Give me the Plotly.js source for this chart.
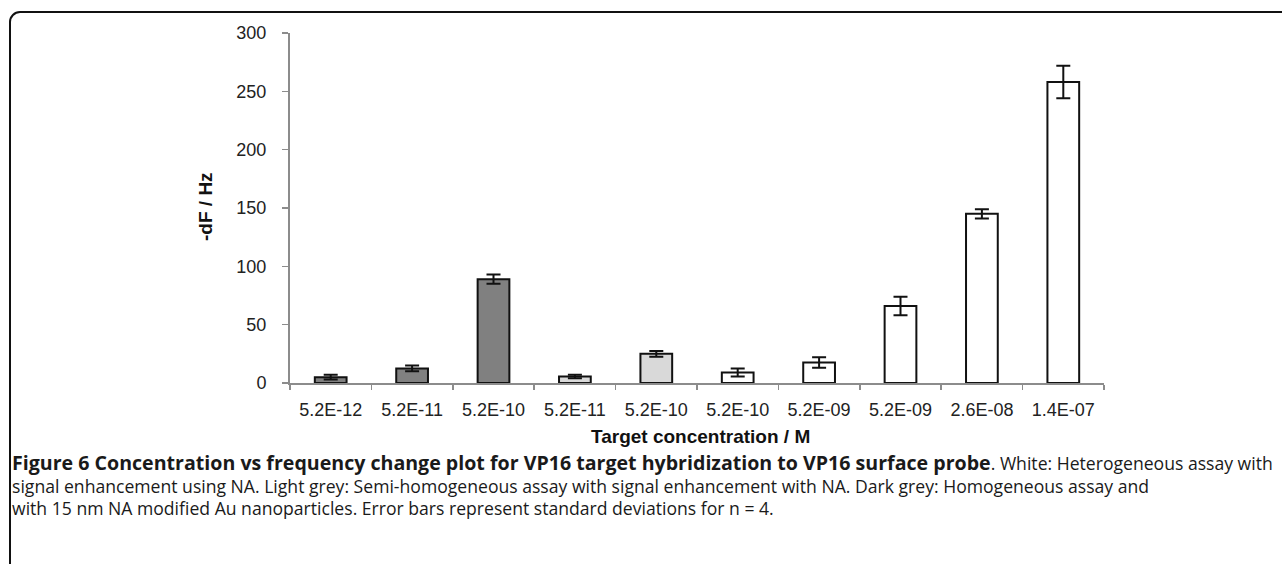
<!DOCTYPE html>
<html>
<head>
<meta charset="utf-8">
<script src="https://cdn.plot.ly/plotly-3.0.1.min.js"></script>
<style>
  html, body { margin: 0; padding: 0; background: #fff; }
  #wrap { position: relative; width: 1282px; height: 564px; overflow: hidden; }
  #frame { position: absolute; left: 9px; top: 11px; width: 1320px; height: 620px;
           border: 2px solid #111; border-radius: 11px; box-sizing: border-box; pointer-events: none; }
  #chart { position: absolute; left: 0; top: 0; width: 1282px; height: 564px; }
</style>
</head>
<body>
<div id="wrap">
  <div id="chart"></div>
  <div id="frame"></div>
</div>
<script>
// ---- data ----
const tickLabels = ["5.2E-12", "5.2E-11", "5.2E-10", "5.2E-11", "5.2E-10",
                    "5.2E-10", "5.2E-09", "5.2E-09", "2.6E-08", "1.4E-07"];
const values     = [5, 12.5, 89, 5.5, 25, 9, 17.5, 66, 145, 258];
const errors     = [2, 2.5, 4, 1.5, 2.5, 3.5, 4.5, 8, 4, 14];
const assay      = ["homogeneous", "homogeneous", "homogeneous",
                    "semi", "semi",
                    "heterogeneous", "heterogeneous", "heterogeneous", "heterogeneous", "heterogeneous"];
const yTitle = "-dF / Hz";
const xTitle = "Target concentration / M";
const captionBold = "Figure 6 Concentration vs frequency change plot for VP16 target hybridization to VP16 surface probe";
const captionLines = [
  ". White: Heterogeneous assay with",
  "signal enhancement using NA. Light grey: Semi-homogeneous assay with signal enhancement with NA. Dark grey: Homogeneous assay and",
  "with 15 nm NA modified Au nanoparticles. Error bars represent standard deviations for n = 4."
];

// ---- styling ----
const fillFor = { homogeneous: "#808080", semi: "#d9d9d9", heterogeneous: "#ffffff" };
const W = 1282, H = 564;
const M = { l: 290, r: 178, t: 33, b: 181 };
const plotW = W - M.l - M.r, plotH = H - M.t - M.b;
const px = x => (x - M.l) / plotW;
const py = y => (H - M.b - y) / plotH;
const axisFont = "Liberation Sans, Arial, sans-serif";

const xs = tickLabels.map((_, i) => i);

const trace = {
  type: "bar",
  x: xs,
  y: values,
  marker: { color: assay.map(a => fillFor[a]), line: { color: "#111", width: 2 } },
  width: 0.39,
  error_y: { type: "data", array: errors, visible: true, color: "#111", thickness: 2, width: 7 },
  hoverinfo: "skip"
};

const annotations = [
  { text: "<b>" + yTitle + "</b>", xref: "paper", yref: "paper", x: px(205), y: py(207),
    textangle: -90, showarrow: false, xanchor: "center", yanchor: "middle",
    font: { family: axisFont, size: 19, color: "#111" } },
  { text: "<b>" + xTitle + "</b>", xref: "paper", yref: "paper", x: px(700), y: py(436),
    showarrow: false, xanchor: "center", yanchor: "middle",
    font: { family: axisFont, size: 19, color: "#111" } }
];
const capY = [462, 485.5, 507.5];
captionLines.forEach((t, i) => annotations.push({
  text: (i === 0 ? '<span style="font-size:19.6px"><b>' + captionBold + '</b></span>' : '') + t,
  xref: "paper", yref: "paper", x: px(10), y: py(capY[i]),
  showarrow: false, xanchor: "left", yanchor: "middle", align: "left",
  font: { family: "Open Sans, sans-serif", size: 17.6, color: "#1a1a1a" }
}));

const layout = {
  width: W, height: H,
  margin: M,
  paper_bgcolor: "#ffffff",
  plot_bgcolor: "#ffffff",
  showlegend: false,
  xaxis: {
    range: [-0.5, 9.5],
    tickvals: xs, ticktext: tickLabels,
    ticks: "", showgrid: false, zeroline: false,
    showline: true, linecolor: "#8c8c8c", linewidth: 2,
    tickfont: { family: axisFont, size: 18, color: "#222" },
    ticklabelstandoff: 9,
    minor: { tick0: -0.5, dtick: 1, ticks: "outside", ticklen: 5, tickcolor: "#8c8c8c", tickwidth: 1.5, showgrid: false },
    fixedrange: true
  },
  yaxis: {
    range: [0, 300], dtick: 50,
    ticks: "outside", ticklen: 6, tickcolor: "#8c8c8c", tickwidth: 1.5,
    showgrid: false, zeroline: false,
    showline: true, linecolor: "#8c8c8c", linewidth: 2,
    tickfont: { family: axisFont, size: 18, color: "#222" },
    ticklabelstandoff: 12,
    fixedrange: true
  },
  annotations: annotations
};

Plotly.newPlot("chart", [trace], layout, { staticPlot: true, displayModeBar: false });
</script>
</body>
</html>
